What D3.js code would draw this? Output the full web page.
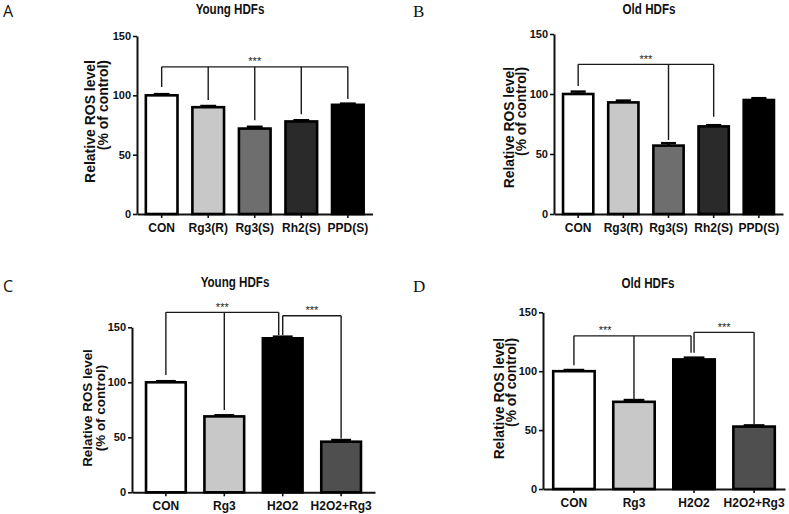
<!DOCTYPE html>
<html><head><meta charset="utf-8">
<script src="https://cdn.jsdelivr.net/npm/d3@7/dist/d3.min.js"></script>
<style>
html,body{margin:0;padding:0;background:#fff;}
svg{display:block;}
</style></head>
<body>
<svg id="chart" width="789" height="514"></svg>
<script>
// ---------------- data ----------------
const categoriesAB = ["CON", "Rg3(R)", "Rg3(S)", "Rh2(S)", "PPD(S)"];
const valuesA = [100, 90, 72, 78, 92];
const errorsA = [1, 1, 1.5, 1, 1];
const valuesB = [100, 93, 57, 73, 95];
const errorsB = [2, 1.5, 2, 1, 1.5];

const categoriesCD = ["CON", "Rg3", "H2O2", "H2O2+Rg3"];
const valuesC = [100, 69, 140, 46];
const errorsC = [1, 1, 1.5, 1.5];
const valuesD = [100, 74, 110, 53];
const errorsD = [1, 1.5, 1.5, 1];

const yTicks = [0, 50, 100, 150];
const titles = ["Young HDFs", "Old HDFs", "Young HDFs", "Old HDFs"];
const panelLetters = ["A", "B", "C", "D"];
const yLabel1 = "Relative ROS level";
const yLabel2 = "(% of control)";
const sigLabel = "***";

// significance brackets: bracket height (value), drop ends [category index, value]
const bracketsA = [{y: 124, drops: [[0, 107], [1, 96], [2, 79], [3, 84], [4, 97]]}];
const bracketsB = [{y: 124.7, drops: [[0, 106.7], [2, 61.7], [3, 81]]}];
const bracketsC = [
  {y: 163.6, drops: [[0, 106.6], [1, 74.8], [2, 143]], endShift: -4},
  {y: 160.5, drops: [[2, 143], [3, 49]]}
];
const bracketsD = [
  {y: 130, drops: [[0, 105], [1, 75.5], [2, 115.6]], endShift: -3, labelAt: 0.52},
  {y: 133, drops: [[2, 115.6], [3, 54.3]]}
];

// ---------------- styles / layout ----------------
const colorsAB = ["#ffffff", "#c8c8c8", "#6e6e6e", "#2a2a2a", "#000000"];
const colorsCD = ["#ffffff", "#c8c8c8", "#000000", "#4f4f4f"];

const panels = [
  {cats: categoriesAB, vals: valuesA, errs: errorsA, colors: colorsAB, brackets: bracketsA,
   x0: 137, x1: 372.5, yTop: 36, yBot: 214, pi: 0.32, po: 0.19,
   title: titles[0], tx: 230, ty: 14, letter: panelLetters[0], lx: 3, ly: 17, serif: false,
   labX1: 95, labX2: 107.5, labAnchor: "end", labY: 60, labSize: 14},
  {cats: categoriesAB, vals: valuesB, errs: errorsB, colors: colorsAB, brackets: bracketsB,
   x0: 554, x1: 783, yTop: 34, yBot: 214, pi: 0.33, po: 0.2,
   title: titles[1], tx: 649, ty: 14, letter: panelLetters[1], lx: 413, ly: 17, serif: true,
   labX1: 514, labX2: 526, labAnchor: "end", labY: 67, labSize: 13.8},
  {cats: categoriesCD, vals: valuesC, errs: errorsC, colors: colorsCD, brackets: bracketsC,
   x0: 132, x1: 375, yTop: 327.3, yBot: 492.3, pi: 0.32, po: 0.24,
   title: titles[2], tx: 235, ty: 287, letter: panelLetters[2], lx: 3, ly: 292, serif: false,
   labX1: 91.7, labX2: 104.5, labAnchor: "middle", labY: 408, labSize: 13.4},
  {cats: categoriesCD, vals: valuesD, errs: errorsD, colors: colorsCD, brackets: bracketsD,
   x0: 543, x1: 785, yTop: 312.3, yBot: 489, pi: 0.31, po: 0.17,
   title: titles[3], tx: 648, ty: 288, letter: panelLetters[3], lx: 413, ly: 292, serif: true,
   labX1: 504, labX2: 515.5, labAnchor: "end", labY: 338, labSize: 13.8}
];

const svg = d3.select("#chart");
const SANS = "'Liberation Sans',Arial,sans-serif";

panels.forEach(p => {
  const g = svg.append("g");
  const x = d3.scaleBand().domain(p.cats).range([p.x0, p.x1]).paddingInner(p.pi).paddingOuter(p.po);
  const y = d3.scaleLinear().domain([0, 150]).range([p.yBot, p.yTop]);
  const bw = x.bandwidth();
  const cx = i => x(p.cats[i]) + bw / 2;

  // panel letter
  g.append("text").attr("x", p.lx).attr("y", p.ly)
    .attr("font-family", p.serif ? "'Liberation Serif','Times New Roman',serif" : "'Open Sans','Noto Sans',sans-serif")
    .attr("font-size", p.serif ? 17 : 16).attr("fill", "#111").text(p.letter);

  // title (narrow bold look)
  g.append("text").attr("transform", `translate(${p.tx},${p.ty}) scale(0.8,1)`).attr("text-anchor", "middle")
    .attr("font-family", SANS).attr("font-weight", "bold").attr("font-size", 14.5)
    .attr("fill", "#111").text(p.title);

  // y axis
  const ya = g.append("g").attr("transform", `translate(${p.x0},0)`)
    .call(d3.axisLeft(y).tickValues(yTicks).tickSize(4).tickSizeOuter(0).tickPadding(2));
  ya.select(".domain").attr("stroke", "#111").attr("stroke-width", 2);
  ya.selectAll(".tick line").attr("stroke", "#111").attr("stroke-width", 1.6);
  ya.selectAll(".tick text").attr("font-family", SANS).attr("font-weight", "bold")
    .attr("font-size", 11).attr("fill", "#111");

  // x axis
  const xa = g.append("g").attr("transform", `translate(0,${p.yBot})`)
    .call(d3.axisBottom(x).tickSize(4).tickSizeOuter(0).tickPadding(5));
  xa.select(".domain").attr("stroke", "#111").attr("stroke-width", 2);
  xa.selectAll(".tick line").attr("stroke", "#111").attr("stroke-width", 1.6);
  xa.selectAll(".tick text").attr("font-family", SANS).attr("font-weight", "bold")
    .attr("font-size", 12).attr("fill", "#111");

  // y label
  const lab = g.append("g");
  [[yLabel1, p.labX1], [yLabel2, p.labX2]].forEach(([t, xx]) => {
    lab.append("text").attr("transform", `translate(${xx},${p.labY}) rotate(-90)`)
      .attr("text-anchor", p.labAnchor).attr("font-family", SANS).attr("font-weight", "bold")
      .attr("font-size", p.labSize).attr("fill", "#111").text(t);
  });

  // bars
  g.selectAll("rect.bar").data(p.vals).join("rect").attr("class", "bar")
    .attr("x", (d, i) => x(p.cats[i]))
    .attr("y", d => y(d))
    .attr("width", bw)
    .attr("height", d => y(0) - y(d))
    .attr("fill", (d, i) => p.colors[i])
    .attr("stroke", "#000").attr("stroke-width", 2.6);

  // error bars
  p.vals.forEach((v, i) => {
    const e = p.errs[i];
    g.append("line").attr("x1", cx(i)).attr("x2", cx(i)).attr("y1", y(v)).attr("y2", y(v + e))
      .attr("stroke", "#000").attr("stroke-width", 2.5);
    g.append("line").attr("x1", cx(i) - bw / 4).attr("x2", cx(i) + bw / 4)
      .attr("y1", y(v + e)).attr("y2", y(v + e))
      .attr("stroke", "#000").attr("stroke-width", 2.5);
  });

  // significance brackets
  p.brackets.forEach(b => {
    const n = b.drops.length;
    const xs = b.drops.map((d, k) => cx(d[0]) + (k === n - 1 && b.endShift ? b.endShift : 0));
    const by = y(b.y);
    g.append("line").attr("x1", xs[0]).attr("x2", xs[n - 1]).attr("y1", by).attr("y2", by)
      .attr("stroke", "#1a1a1a").attr("stroke-width", 1.4);
    b.drops.forEach((d, k) => {
      g.append("line").attr("x1", xs[k]).attr("x2", xs[k]).attr("y1", by).attr("y2", y(d[1]))
        .attr("stroke", "#1a1a1a").attr("stroke-width", 1.4);
    });
    const lxp = b.labelAt !== undefined ? (x(p.cats[0]) + bw / 2 + b.labelAt * x.step()) : (xs[0] + xs[n - 1]) / 2;
    g.append("text").attr("x", lxp).attr("y", by - 1.5).attr("text-anchor", "middle")
      .attr("font-family", SANS).attr("font-size", 11).attr("fill", "#1a1a1a").text(sigLabel);
  });
});
</script>
</body></html>
